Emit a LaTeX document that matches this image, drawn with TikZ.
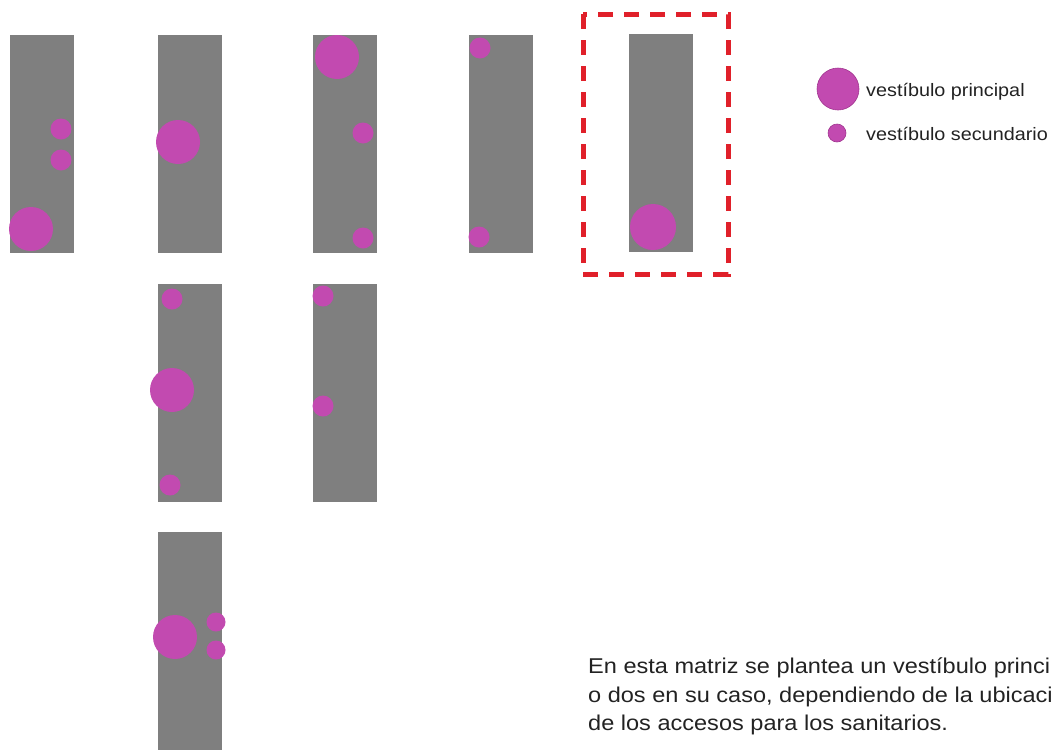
\documentclass[tikz,border=0pt]{standalone}
\usepackage{fontspec}
\setmainfont{Liberation Sans}
\newfontfamily\widesans[FakeStretch=1.1]{Liberation Sans}
\usepackage{tikz}
\definecolor{bargray}{HTML}{7F7F7F}
\definecolor{vestmag}{HTML}{C24AB0}
\definecolor{vestedge}{HTML}{A0358F}
\definecolor{markred}{HTML}{E0202A}
\definecolor{textdark}{HTML}{222222}

\begin{document}
\begin{tikzpicture}[x=1pt,y=-1pt]

\tikzset{
bar/.style={
    fill=bargray,
    inner sep=0pt,
    minimum width=64pt,
    minimum height=218pt
},
mainvest/.style={
    circle,
    fill=vestmag,
    inner sep=0pt,
    minimum size=44pt
},
secvest/.style={
    circle,
    fill=vestmag,
    inner sep=0pt,
    minimum size=21pt
},
legendtxt/.style={
    anchor=west,
    font=\widesans\fontsize{18}{20}\selectfont,
    text=textdark,
    inner sep=0pt
}
}

\useasboundingbox (0,0) rectangle (1052,753);
\clip (0,0) rectangle (1052,753);

% first row
\node[bar] (barA) at (42,143.5) {};
\node[bar] (barB) at (190,143.5) {};
\node[bar] (barC) at (344.5,143.5) {};
\node[bar] (barD) at (501,143.5) {};
\node[bar] (barE) at (660.5,142.5) {};

\node[secvest] (a1) at (61,129) {};
\node[secvest] (a2) at (61,160) {};
\node[mainvest] (a3) at (31,229) {};

\node[mainvest] (b1) at (178,142) {};

\node[mainvest] (c1) at (337,57) {};
\node[secvest] (c2) at (363,133) {};
\node[secvest] (c3) at (363,238) {};

\node[secvest] (d1) at (480,48) {};
\node[secvest] (d2) at (479,237) {};

\node[mainvest,minimum size=46pt] (e1) at (653,227) {};

% chosen option
\draw[markred,line width=5pt,dash pattern=on 15pt off 11pt]
(583,14) rectangle (728,274);

% second row
\node[bar] (barF) at (190,393) {};
\node[bar] (barG) at (344.5,393) {};

\node[secvest] (f1) at (172,299) {};
\node[mainvest] (f2) at (172,390) {};
\node[secvest] (f3) at (170,485) {};

\node[secvest] (g1) at (323,296) {};
\node[secvest] (g2) at (323,406) {};

% third row
\node[bar] (barH) at (190,640.5) {};

\node[mainvest] (h1) at (175,637) {};
\node[secvest,minimum size=19pt] (h2) at (216,622) {};
\node[secvest,minimum size=19pt] (h3) at (216,650) {};

% legend
\node[mainvest,draw=vestedge,line width=0.6pt,minimum size=42pt] (legmain) at (838,89) {};
\node[secvest,draw=vestedge,line width=0.6pt,minimum size=18pt] (legsec) at (837,133) {};
\node[legendtxt] (legmaintxt) at (866,92) {vestíbulo principal};
\node[legendtxt] (legsectxt) at (866,134) {vestíbulo secundario};

% note
\node[anchor=north west,align=left,inner sep=0pt,text=textdark,
font=\widesans\fontsize{21.4}{28.5}\selectfont] (note) at (588,658)
{En esta matriz se plantea un vestíbulo princi\\
o dos en su caso, dependiendo de la ubicaci\\
de los accesos para los sanitarios.};

\end{tikzpicture}
\end{document}
